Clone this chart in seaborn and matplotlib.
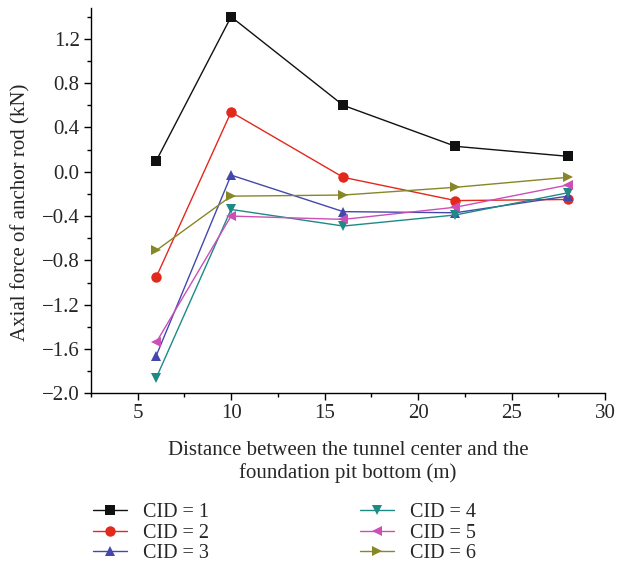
import matplotlib
matplotlib.use("Agg")
import matplotlib.pyplot as plt
import seaborn as sns
import pandas as pd
from matplotlib.ticker import MultipleLocator
from matplotlib.lines import Line2D

distance = [6, 10, 16, 22, 28]
cid1 = [0.10, 1.40, 0.60, 0.23, 0.14]
cid2 = [-0.95, 0.54, -0.05, -0.26, -0.25]
cid3 = [-1.66, -0.03, -0.36, -0.37, -0.22]
cid4 = [-1.86, -0.34, -0.49, -0.39, -0.19]
cid5 = [-1.54, -0.40, -0.43, -0.32, -0.12]
cid6 = [-0.71, -0.22, -0.21, -0.14, -0.05]
labels = ["CID = 1", "CID = 2", "CID = 3", "CID = 4", "CID = 5", "CID = 6"]
series = [cid1, cid2, cid3, cid4, cid5, cid6]
yticks = [-2.0, -1.6, -1.2, -0.8, -0.4, 0.0, 0.4, 0.8, 1.2]
xticks = [5, 10, 15, 20, 25, 30]

colors = ["#111111", "#E3281C", "#4448AA", "#1E8A86", "#CC4FB8", "#878728"]
markers = ["s", "o", "^", "v", "<", ">"]

rows = []
for lab, vals in zip(labels, series):
    for x, y in zip(distance, vals):
        rows.append({"Distance": x, "Force": y, "CID": lab})
df = pd.DataFrame(rows)

sns.set_theme(style="ticks")
plt.rcParams["font.family"] = ["Liberation Serif", "DejaVu Serif"]

fig = plt.figure(figsize=(6.18, 5.65), dpi=100)
ax = fig.add_axes([0.147, 0.304, 0.832, 0.682])

sns.lineplot(data=df, x="Distance", y="Force", hue="CID", style="CID",
             palette=dict(zip(labels, colors)), markers=dict(zip(labels, markers)),
             dashes=False, markersize=7.5, linewidth=1.0, markeredgewidth=0,
             ax=ax, legend=False)

ax.set_xlim(2.5, 30)
ax.set_ylim(-2.0, 1.48)
ax.set_xticks(xticks)
ax.xaxis.set_minor_locator(MultipleLocator(2.5))
ax.set_yticks(yticks)
ax.yaxis.set_minor_locator(MultipleLocator(0.2))
ax.set_yticklabels([f"{v:.1f}".replace("-", "\u2212") for v in yticks])
ax.tick_params(which="major", direction="out", length=5, width=1, labelsize=15, color="black", pad=3)
ax.tick_params(which="minor", direction="out", length=3, width=1, color="black")
for s in ["top", "right"]:
    ax.spines[s].set_visible(False)
for s in ["left", "bottom"]:
    ax.spines[s].set_color("black")
    ax.spines[s].set_linewidth(1.0)

ax.set_xlabel("Distance between the tunnel center and the\nfoundation pit bottom (m)", fontsize=15, labelpad=13, linespacing=1.15)
ax.set_ylabel("Axial force of anchor rod (kN)", fontsize=15)
ax.yaxis.set_label_coords(-0.117, 0.47)

handles = [Line2D([0], [0], color=c, marker=m, markersize=7.5, markeredgewidth=0, linewidth=1.0)
           for c, m in zip(colors, markers)]
fig.legend(handles, labels, ncol=2, loc="upper left", bbox_to_anchor=(0.15, 0.110),
           frameon=False, fontsize=14.5, handlelength=1.7, handletextpad=0.8,
           columnspacing=7.5, labelspacing=0.08, borderaxespad=0, borderpad=0)

fig.savefig("out.png", dpi=100)
